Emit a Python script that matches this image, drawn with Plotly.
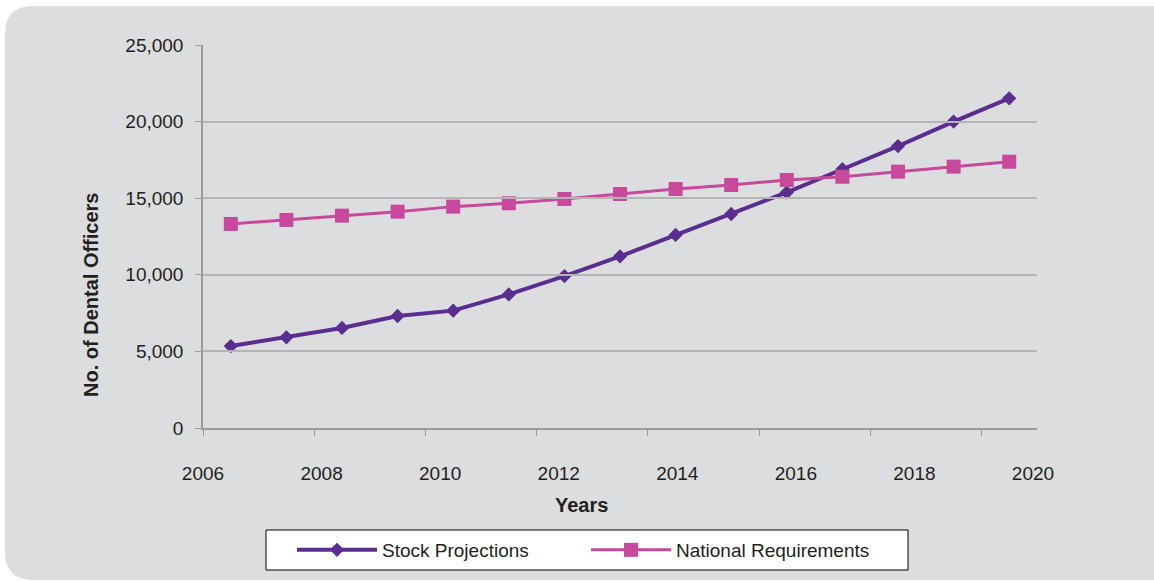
import plotly.graph_objects as go

# ---- data ----
years = list(range(2006, 2021))
stock_projections = [5350, 5920, 6530, 7310, 7660, 8720, 9920, 11200, 12600,
                     13970, 15380, 16890, 18400, 20000, 21520]
national_requirements = [13320, 13580, 13860, 14120, 14450, 14670, 14950, 15270,
                         15600, 15860, 16190, 16400, 16730, 17060, 17380]
year_labels = [2006, 2008, 2010, 2012, 2014, 2016, 2018, 2020]

# ---- layout geometry (pixels) ----
W, H = 1154, 581
L, R, T, B = 203, 1037, 45, 428
def px2x(px):
    return (px - L) / (R - L)
def py2y(py):
    return (B - py) / (B - T)

purple = "#5a2d91"
pink = "#c8489c"
panel = "#dcdddf"
grid = "#b4b4b4"
axis_c = "#9a9a9a"
font_fam = "Liberation Sans, Arial, sans-serif"

fig = go.Figure()
fig.add_trace(go.Scatter(
    x=years, y=stock_projections, name="Stock Projections",
    mode="lines+markers",
    line=dict(color=purple, width=4),
    marker=dict(symbol="diamond", size=11, color=purple),
))
fig.add_trace(go.Scatter(
    x=years, y=national_requirements, name="National Requirements",
    mode="lines+markers",
    line=dict(color=pink, width=3),
    marker=dict(symbol="square", size=14, color=pink),
))
# invisible helper trace for the labelled year axis
fig.add_trace(go.Scatter(
    x=[year_labels[0], year_labels[-1]], y=[0, 0], xaxis="x2", yaxis="y",
    mode="markers", marker=dict(opacity=0), showlegend=False, hoverinfo="skip",
))

# rounded grey panel
x0, y0, x1, y1, r = 5, 6, 1154 + 30, 580, 28
pts = [
    (x0 + r, y0), (x1 - r, y0), (x1, y0), (x1, y0 + r), (x1, y1 - r), (x1, y1), (x1 - r, y1),
    (x0 + r, y1), (x0, y1), (x0, y1 - r), (x0, y0 + r), (x0, y0), (x0 + r, y0)
]
def P(p):
    return f"{px2x(p[0]):.5f},{py2y(p[1]):.5f}"
path = (f"M {P(pts[0])} L {P(pts[1])} Q {P(pts[2])} {P(pts[3])} L {P(pts[4])} "
        f"Q {P(pts[5])} {P(pts[6])} L {P(pts[7])} Q {P(pts[8])} {P(pts[9])} "
        f"L {P(pts[10])} Q {P(pts[11])} {P(pts[12])} Z")
fig.add_shape(type="path", path=path, xref="paper", yref="paper",
              fillcolor=panel, line=dict(width=0), layer="below")
# legend frame
fig.add_shape(type="rect", xref="paper", yref="paper",
              x0=px2x(266), x1=px2x(908), y0=py2y(570), y1=py2y(530),
              fillcolor="white", line=dict(color="black", width=1), layer="below")

tick_bounds = [y - 0.5 for y in years[::2]]

fig.update_layout(
    width=W, height=H,
    margin=dict(l=L, r=W - R, t=T, b=H - B, pad=0),
    paper_bgcolor="white",
    plot_bgcolor="rgba(0,0,0,0)",
    font=dict(family=font_fam, size=19, color="#231f20"),
    xaxis=dict(
        range=[years[0] - 0.5, years[-1] + 0.5],
        tickvals=tick_bounds, showticklabels=False,
        ticks="outside", ticklen=6, tickcolor=axis_c, tickwidth=1,
        showline=True, linecolor=axis_c, linewidth=1.5,
        showgrid=False, zeroline=False,
    ),
    xaxis2=dict(
        domain=[0, px2x(1033)], anchor="y",
        range=[year_labels[0], year_labels[-1]],
        tickvals=year_labels, ticks="", showline=False, showgrid=False,
        zeroline=False, ticklabelstandoff=32,
        tickfont=dict(size=19, color="#231f20"),
    ),
    yaxis=dict(
        range=[0, 25000], dtick=5000, tickformat=",",
        ticks="outside", ticklen=6, tickcolor=axis_c,
        showline=True, linecolor=axis_c, linewidth=1.5,
        showgrid=True, gridcolor=grid, gridwidth=1.5,
        zeroline=False, ticklabelstandoff=8,
    ),
    legend=dict(
        orientation="h", x=px2x(292), xanchor="left", y=py2y(531), yanchor="top",
        bgcolor="rgba(0,0,0,0)", borderwidth=0,
        font=dict(size=19), entrywidth=199, entrywidthmode="pixels",
        itemwidth=80,
    ),
    annotations=[
        dict(text="<b>Years</b>", x=px2x(581), y=py2y(505), xref="paper", yref="paper",
             showarrow=False, font=dict(size=20), xanchor="center", yanchor="middle"),
        dict(text="<b>No. of Dental Officers</b>", x=px2x(91), y=py2y(295),
             xref="paper", yref="paper", showarrow=False, textangle=-90,
             font=dict(size=20), xanchor="center", yanchor="middle"),
    ],
)

fig.write_html(
    "out.html",
    config={"displayModeBar": False},
    post_script="document.body.style.margin='0';document.body.style.overflow='hidden';",
)
